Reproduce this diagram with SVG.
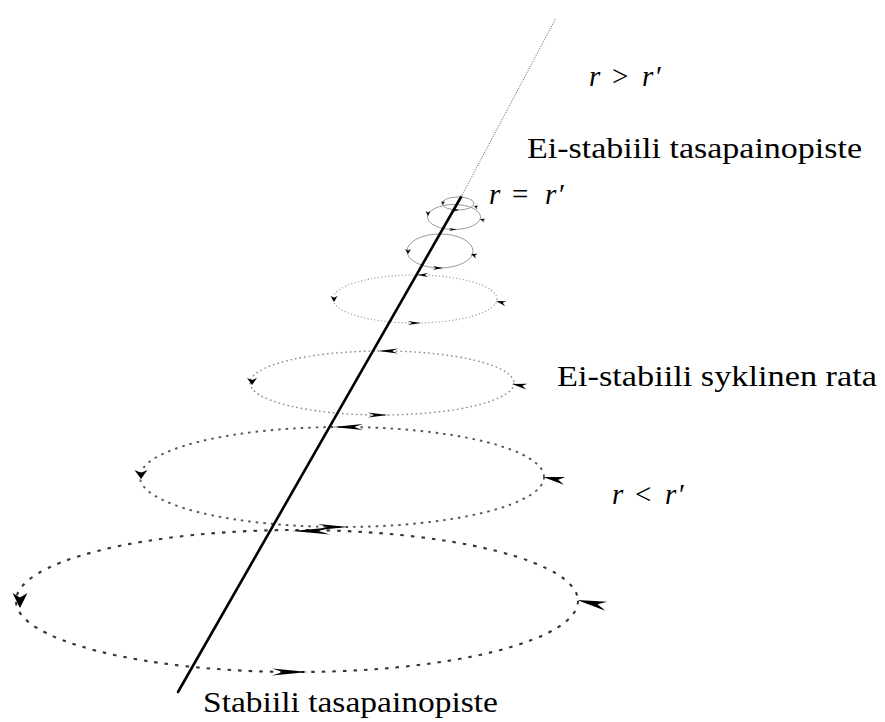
<svg xmlns="http://www.w3.org/2000/svg" xmlns:xlink="http://www.w3.org/1999/xlink" width="885" height="722" viewBox="0 0 885 722">
<style>
  .lbl { font-family: "Liberation Serif", "Times New Roman", serif; font-size: 29px; fill: #000; }
  .it { font-style: italic; }
  .orbit { fill: none; }
  .e1 { stroke: #9a9a9a; stroke-width: 1; }
  .e4 { stroke: #999; stroke-width: 1.1; stroke-dasharray: 1.2 2.2; }
  .e5 { stroke: #888; stroke-width: 1.4; stroke-dasharray: 1.6 3; }
  .e6 { stroke: #555; stroke-width: 1.9; stroke-dasharray: 2.5 5; }
  .e7 { stroke: #333; stroke-width: 2.1; stroke-dasharray: 3.5 7; }
  .axis { stroke: #000; stroke-width: 2.6; stroke-linecap: round; }
  .axisdot { stroke: #555; stroke-width: 1; stroke-dasharray: 1 1.5; }
  .ah { fill: #000; }
</style>
<defs>
  <path id="ah" d="M0,0 L-10,-5 L-7,0 L-10,5 Z"/>
</defs>
<g id="orbits">
  <ellipse id="orbit7" class="orbit e7" cx="297" cy="601" rx="281" ry="71"/>
  <ellipse id="orbit6" class="orbit e6" cx="342" cy="477" rx="202" ry="50"/>
  <ellipse id="orbit5" class="orbit e5" cx="382" cy="383" rx="132" ry="32"/>
  <ellipse id="orbit4" class="orbit e4" cx="415" cy="299" rx="82" ry="24"/>
  <ellipse id="orbit3" class="orbit e1" cx="440" cy="251" rx="33" ry="17"/>
  <ellipse id="orbit2" class="orbit e1" cx="454" cy="217" rx="26.5" ry="12.5"/>
  <ellipse id="orbit1" class="orbit e1" cx="458" cy="203.5" rx="16" ry="6.5"/>
</g>
<g id="axis-line">
  <line class="axis" x1="178" y1="692" x2="461" y2="197"/>
  <line class="axisdot" x1="461" y1="197" x2="556" y2="18"/>
</g>
<g id="connectors" class="ah">
  <use xlink:href="#ah" transform="translate(292,531) rotate(180) scale(3.8,0.7)"/>
  <use xlink:href="#ah" transform="translate(308,672) rotate(0) scale(3.6,0.7)"/>
  <use xlink:href="#ah" transform="translate(20,608) rotate(90) scale(1.5,1.5)"/>
  <use xlink:href="#ah" transform="translate(577,600) rotate(192) scale(3,0.9)"/>

  <use xlink:href="#ah" transform="translate(333,427) rotate(180) scale(3,0.6)"/>
  <use xlink:href="#ah" transform="translate(348,527) rotate(0) scale(3,0.6)"/>
  <use xlink:href="#ah" transform="translate(141,479) rotate(90) scale(0.9,1.3)"/>
  <use xlink:href="#ah" transform="translate(543,477) rotate(190) scale(2.2,0.8)"/>

  <use xlink:href="#ah" transform="translate(378,351) rotate(180) scale(2,0.5)"/>
  <use xlink:href="#ah" transform="translate(388,415) rotate(0) scale(2,0.5)"/>
  <use xlink:href="#ah" transform="translate(252,385) rotate(90) scale(0.7,1)"/>
  <use xlink:href="#ah" transform="translate(512,384) rotate(190) scale(1.5,0.6)"/>

  <use xlink:href="#ah" transform="translate(417,275) rotate(180) scale(1.1,0.4)"/>
  <use xlink:href="#ah" transform="translate(421,323) rotate(0) scale(1.3,0.4)"/>
  <use xlink:href="#ah" transform="translate(334,302) rotate(90) scale(0.6,0.7)"/>
  <use xlink:href="#ah" transform="translate(496,301) rotate(195) scale(1,0.5)"/>

  <use xlink:href="#ah" transform="translate(443,268) rotate(0) scale(1,0.4)"/>
  <use xlink:href="#ah" transform="translate(408,254) rotate(90) scale(0.5,0.6)"/>
  <use xlink:href="#ah" transform="translate(471,254) rotate(200) scale(0.6,0.5)"/>

  <use xlink:href="#ah" transform="translate(428,216) rotate(90) scale(0.5,0.5)"/>
  <use xlink:href="#ah" transform="translate(480,219) rotate(200) scale(0.5,0.4)"/>
  <use xlink:href="#ah" transform="translate(457,229.5) rotate(0) scale(0.8,0.3)"/>

  <use xlink:href="#ah" transform="translate(443,205) rotate(90) scale(0.4,0.4)"/>
  <use xlink:href="#ah" transform="translate(474,206) rotate(200) scale(0.4,0.4)"/>
  <use xlink:href="#ah" transform="translate(459,210) rotate(0) scale(0.5,0.3)"/>
</g>
<g id="labels" font-family="Liberation Serif, Times New Roman, serif" font-size="29">
  <text id="t-rgt" class="lbl"><tspan class="it" x="589" y="86">r</tspan><tspan x="612" y="86">&gt;</tspan><tspan class="it" x="642" y="86">r</tspan><tspan x="656" y="86">′</tspan></text>
  <text id="t-unstable-eq" class="lbl" x="527" y="158" textLength="335" lengthAdjust="spacingAndGlyphs">Ei-stabiili tasapainopiste</text>
  <text id="t-eq" class="lbl"><tspan class="it" x="489" y="204">r</tspan><tspan x="512" y="204">=</tspan><tspan class="it" x="545" y="204">r</tspan><tspan x="559" y="204">′</tspan></text>
  <text id="t-cycle" class="lbl" x="557" y="386" textLength="320" lengthAdjust="spacingAndGlyphs">Ei-stabiili syklinen rata</text>
  <text id="t-lt" class="lbl"><tspan class="it" x="612" y="504">r</tspan><tspan x="635" y="504">&lt;</tspan><tspan class="it" x="665" y="504">r</tspan><tspan x="679" y="504">′</tspan></text>
  <text id="t-stable" class="lbl" x="203" y="712" textLength="295" lengthAdjust="spacingAndGlyphs">Stabiili tasapainopiste</text>
</g>
</svg>
